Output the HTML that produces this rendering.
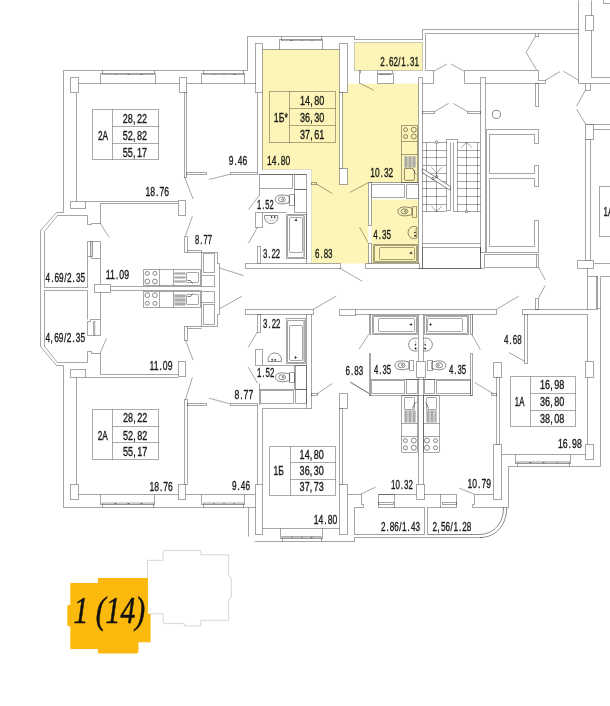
<!DOCTYPE html>
<html lang="ru"><head><meta charset="utf-8"><title>План этажа</title>
<style>html,body{margin:0;padding:0;background:#fff}svg{display:block}</style>
</head><body>
<svg width="610" height="706" viewBox="0 0 610 706">
<g stroke="none"><polygon points="262.5,49.5 339.5,49.5 339.5,92.5 347.5,92.5 347.5,83.5 418.5,83.5 418.5,263.5 311.5,263.5 311.5,169.5 262.5,169.5" fill="#FDF5B7"/>
<rect x="354.5" y="42.5" width="68" height="28" fill="#FDF5B7"/>
<rect x="359.5" y="70.5" width="18" height="13" fill="#fff"/>
<rect x="368.5" y="182.5" width="50" height="17" fill="#fff"/>
<rect x="368.5" y="225.5" width="3" height="18" fill="#fff"/></g>
<g stroke="#000" stroke-opacity="0.35" stroke-width="1" fill="none" stroke-linecap="butt">
<polyline points="40.5,346.5 40.5,230.5 56.5,212.5 63.5,212.5 63.5,70.5 247.5,70.5 247.5,36.5 354.5,36.5 354.5,39.5 422.5,39.5 422.5,29.5 578.5,29.5" fill="none"/>
<line x1="578.5" y1="0.5" x2="578.5" y2="83.5"/>
<polyline points="40.5,346.5 56.5,365.5 63.5,365.5 63.5,507.5 248.5,507.5 248.5,536.5" fill="none"/>
<polyline points="254.5,541.5 354.5,541.5 354.5,537.5 481.5,537.5" fill="none"/>
<line x1="76.5" y1="92.5" x2="76.5" y2="201.5"/>
<line x1="78.5" y1="83.5" x2="100.5" y2="83.5"/>
<line x1="155.5" y1="83.5" x2="179.5" y2="83.5"/>
<line x1="186.5" y1="83.5" x2="201.5" y2="83.5"/>
<line x1="244.5" y1="83.5" x2="256.5" y2="83.5"/>
<rect x="100.5" y="73.5" width="55" height="10" fill="#fff"/>
<rect x="102.6" y="73.4" width="51.6" height="1.2" fill="#fff" stroke="#777" stroke-opacity="1" stroke-width="0.6"/>
<line x1="102.5" y1="70.5" x2="102.5" y2="73.5"/>
<line x1="154.5" y1="70.5" x2="154.5" y2="73.5"/>
<line x1="115.5" y1="74.5" x2="116.5" y2="74.5" stroke="#666" stroke-opacity="1" stroke-width="1.0"/>
<line x1="127.5" y1="74.5" x2="129.5" y2="74.5" stroke="#666" stroke-opacity="1" stroke-width="1.0"/>
<line x1="140.5" y1="74.5" x2="142.5" y2="74.5" stroke="#666" stroke-opacity="1" stroke-width="1.0"/>
<rect x="201.5" y="73.5" width="43" height="10" fill="#fff"/>
<rect x="203.4" y="73.4" width="40.7" height="1.2" fill="#fff" stroke="#777" stroke-opacity="1" stroke-width="0.6"/>
<line x1="203.5" y1="70.5" x2="203.5" y2="73.5"/>
<line x1="243.5" y1="70.5" x2="243.5" y2="73.5"/>
<line x1="213.5" y1="74.5" x2="214.5" y2="74.5" stroke="#666" stroke-opacity="1" stroke-width="1.0"/>
<line x1="223.5" y1="74.5" x2="224.5" y2="74.5" stroke="#666" stroke-opacity="1" stroke-width="1.0"/>
<line x1="233.5" y1="74.5" x2="235.5" y2="74.5" stroke="#666" stroke-opacity="1" stroke-width="1.0"/>
<rect x="70.5" y="77.5" width="8" height="15" fill="#fff"/>
<rect x="179.5" y="77.5" width="7" height="15" fill="#fff"/>
<rect x="184.5" y="92.5" width="2" height="85" fill="#fff"/>
<rect x="186.5" y="172.5" width="20" height="2" fill="none"/>
<rect x="230.5" y="172.5" width="27" height="2" fill="none"/>
<line x1="230.4" y1="174.2" x2="208.8" y2="179.5"/>
<line x1="184.4" y1="176.8" x2="193.1" y2="199"/>
<line x1="85.5" y1="201.5" x2="178.5" y2="201.5"/>
<line x1="100.5" y1="203.5" x2="178.5" y2="203.5"/>
<rect x="70.5" y="201.5" width="15" height="7" fill="#fff"/>
<rect x="178.5" y="200.5" width="7" height="15" fill="#fff"/>
<polyline points="87.5,287.5 44.5,287.5 44.5,231.5 57.5,215.5 87.5,215.5 87.5,224.5 91.5,224.5 91.5,223.5 100.5,223.5 100.5,203.5" fill="none"/>
<line x1="100" y1="222.9" x2="109.2" y2="237.4"/>
<polyline points="87.5,258.5 87.5,241.5 100.5,241.5 100.5,258.5 91.5,258.5 90.5,256.5 87.5,256.5" fill="none"/>
<rect x="90.5" y="241.5" width="2" height="15" fill="#ddd"/>
<line x1="87.5" y1="258.5" x2="87.5" y2="287.5"/>
<line x1="100.5" y1="258.5" x2="100.5" y2="284.5"/>
<line x1="110.5" y1="286.5" x2="201.5" y2="286.5"/>
<line x1="110.5" y1="290.5" x2="201.5" y2="290.5"/>
<rect x="94.5" y="284.5" width="16" height="8" fill="#fff"/>
<polyline points="87.5,290.5 44.5,290.5 44.5,346.5 57.5,362.5 87.5,362.5 87.5,351.5 91.5,351.5 91.5,353.5 100.5,353.5 100.5,374.5" fill="none"/>
<line x1="87.5" y1="290.5" x2="87.5" y2="319.5"/>
<line x1="100.5" y1="292.5" x2="100.5" y2="319.5"/>
<polyline points="87.5,321.5 87.5,335.5 100.5,335.5 100.5,319.5 90.5,319.5 90.5,321.5 87.5,321.5" fill="none"/>
<rect x="93.3" y="321.3" width="1.6" height="14.1" fill="#ccc" stroke-width="0.6"/>
<line x1="100" y1="353.4" x2="106.4" y2="338.5"/>
<line x1="100.5" y1="374.5" x2="178.5" y2="374.5"/>
<line x1="85.5" y1="377.5" x2="178.5" y2="377.5"/>
<rect x="70.5" y="369.5" width="15" height="8" fill="#fff"/>
<rect x="178.5" y="361.5" width="7" height="15" fill="#fff"/>
<line x1="76.5" y1="377.5" x2="76.5" y2="484.5"/>
<rect x="143.5" y="269.5" width="57" height="16" fill="none"/>
<line x1="159.5" y1="269.5" x2="159.5" y2="285.5"/>
<line x1="173.5" y1="269.5" x2="173.5" y2="285.5"/>
<circle cx="147.3" cy="273.4" r="2" fill="none" stroke-opacity="0.45"/>
<circle cx="147.3" cy="281.5" r="2.4" fill="none" stroke-opacity="0.45"/>
<circle cx="154.9" cy="273.4" r="2" fill="none" stroke-opacity="0.45"/>
<circle cx="154.9" cy="281.5" r="2.4" fill="none" stroke-opacity="0.45"/>
<rect x="174.5" y="272.5" width="11" height="2" fill="#ababab" stroke="#ababab" stroke-opacity="1" stroke-width="0.2"/>
<rect x="174.5" y="276.5" width="11" height="2" fill="#ababab" stroke="#ababab" stroke-opacity="1" stroke-width="0.2"/>
<rect x="174.5" y="280.5" width="11" height="2" fill="#ababab" stroke="#ababab" stroke-opacity="1" stroke-width="0.2"/>
<rect x="186.5" y="272.5" width="12" height="10" fill="none" rx="1"/>
<polyline points="187.5,280.5 190.5,280.5 192.5,283.5" fill="none" stroke="#444" stroke-opacity="1" stroke-width="0.7"/>
<rect x="201.5" y="275.5" width="13" height="11" fill="none"/>
<rect x="143.5" y="291.5" width="57" height="16" fill="none"/>
<line x1="159.5" y1="291.5" x2="159.5" y2="307.5"/>
<line x1="173.5" y1="291.5" x2="173.5" y2="307.5"/>
<circle cx="147.3" cy="295.2" r="2.4" fill="none" stroke-opacity="0.45"/>
<circle cx="147.3" cy="303.4" r="2" fill="none" stroke-opacity="0.45"/>
<circle cx="154.9" cy="295.2" r="2.4" fill="none" stroke-opacity="0.45"/>
<circle cx="154.9" cy="303.4" r="2" fill="none" stroke-opacity="0.45"/>
<rect x="174.5" y="294.5" width="11" height="3" fill="#ababab" stroke="#ababab" stroke-opacity="1" stroke-width="0.2"/>
<rect x="174.5" y="298.5" width="11" height="3" fill="#ababab" stroke="#ababab" stroke-opacity="1" stroke-width="0.2"/>
<rect x="174.5" y="302.5" width="11" height="3" fill="#ababab" stroke="#ababab" stroke-opacity="1" stroke-width="0.2"/>
<rect x="186.5" y="294.5" width="12" height="10" fill="none" rx="1"/>
<polyline points="187.5,296.5 190.5,296.5 192.5,293.5" fill="none" stroke="#444" stroke-opacity="1" stroke-width="0.7"/>
<rect x="201.5" y="291.5" width="13" height="11" fill="none"/>
<rect x="184.5" y="236.5" width="3" height="16" fill="none"/>
<line x1="187.5" y1="250.5" x2="201.5" y2="250.5"/>
<line x1="187.5" y1="252.5" x2="217.5" y2="252.5"/>
<line x1="201.5" y1="250.5" x2="201.5" y2="275.5"/>
<polyline points="217.5,252.5 217.5,263.5 219.5,263.5 219.5,314.5 217.5,314.5 217.5,326.5 187.5,326.5" fill="none"/>
<rect x="203.5" y="253.5" width="11" height="19" fill="none"/>
<rect x="203.5" y="304.5" width="11" height="20" fill="none"/>
<line x1="201.5" y1="302.5" x2="201.5" y2="326.5"/>
<rect x="184.5" y="326.5" width="3" height="14" fill="none"/>
<line x1="187.5" y1="328.5" x2="201.5" y2="328.5"/>
<line x1="185.5" y1="235.7" x2="192.4" y2="216.2"/>
<line x1="185.5" y1="340.1" x2="193.1" y2="360.3"/>
<line x1="219.5" y1="268" x2="243.6" y2="275.6"/>
<line x1="219.5" y1="308.8" x2="241.9" y2="296.3"/>
<line x1="192.4" y1="377.5" x2="185.5" y2="399.3"/>
<rect x="184.5" y="399.5" width="3" height="85" fill="#fff"/>
<rect x="187.5" y="403.5" width="19" height="2" fill="none"/>
<rect x="230.5" y="403.5" width="27" height="2" fill="none"/>
<line x1="209.2" y1="398.2" x2="230.3" y2="403.9"/>
<line x1="78.5" y1="494.5" x2="100.5" y2="494.5"/>
<line x1="154.5" y1="494.5" x2="178.5" y2="494.5"/>
<line x1="185.5" y1="494.5" x2="201.5" y2="494.5"/>
<line x1="244.5" y1="494.5" x2="255.5" y2="494.5"/>
<rect x="100.5" y="494.5" width="54" height="10" fill="#fff"/>
<rect x="102" y="503" width="51.9" height="1.2" fill="#fff" stroke="#777" stroke-opacity="1" stroke-width="0.6"/>
<line x1="102.5" y1="507.5" x2="102.5" y2="504.5"/>
<line x1="153.5" y1="507.5" x2="153.5" y2="504.5"/>
<line x1="114.5" y1="503.5" x2="116.5" y2="503.5" stroke="#666" stroke-opacity="1" stroke-width="1.0"/>
<line x1="127.5" y1="503.5" x2="129.5" y2="503.5" stroke="#666" stroke-opacity="1" stroke-width="1.0"/>
<line x1="140.5" y1="503.5" x2="142.5" y2="503.5" stroke="#666" stroke-opacity="1" stroke-width="1.0"/>
<rect x="201.5" y="494.5" width="43" height="10" fill="#fff"/>
<rect x="203.6" y="503" width="40" height="1.2" fill="#fff" stroke="#777" stroke-opacity="1" stroke-width="0.6"/>
<line x1="203.5" y1="507.5" x2="203.5" y2="504.5"/>
<line x1="243.5" y1="507.5" x2="243.5" y2="504.5"/>
<line x1="213.5" y1="503.5" x2="214.5" y2="503.5" stroke="#666" stroke-opacity="1" stroke-width="1.0"/>
<line x1="223.5" y1="503.5" x2="224.5" y2="503.5" stroke="#666" stroke-opacity="1" stroke-width="1.0"/>
<line x1="233.5" y1="503.5" x2="234.5" y2="503.5" stroke="#666" stroke-opacity="1" stroke-width="1.0"/>
<rect x="70.5" y="484.5" width="8" height="15" fill="#fff"/>
<rect x="178.5" y="484.5" width="7" height="15" fill="#fff"/>
<line x1="259.5" y1="174.5" x2="306.5" y2="174.5"/>
<rect x="259.5" y="174.5" width="33" height="14" fill="none"/>
<rect x="294.5" y="174.5" width="12" height="15" fill="none"/>
<rect x="294.5" y="189.5" width="12" height="23" fill="none"/>
<line x1="259.5" y1="188.5" x2="259.5" y2="195.5"/>
<line x1="259.5" y1="195" x2="248.5" y2="209.6"/>
<rect x="289.5" y="194.5" width="5" height="11" fill="none"/>
<path d="M289.2,196 L282.7,194.9 Q275.2,194.9 275.2,199.4 Q275.2,203.9 282.7,203.9 L289.2,202.8 Z" fill="none" stroke-opacity="0.45"/>
<ellipse cx="281.8" cy="199.4" rx="3.5" ry="2.5" fill="none" stroke-opacity="0.45"/>
<circle cx="282.6" cy="199.4" r="0.9" fill="none" stroke-opacity="0.45"/>
<line x1="262.5" y1="212.5" x2="286.5" y2="212.5"/>
<rect x="255.5" y="212.5" width="7" height="15" fill="#fff"/>
<line x1="257.5" y1="227.3" x2="248.4" y2="243.2"/>
<path d="M264.6,215.5 A6.75,6.75 0 1 0 277.8,215.5 Z" fill="none" stroke-opacity="0.45"/>
<circle cx="271.6" cy="217.2" r="0.6" fill="#333" stroke-opacity="0.45"/>
<circle cx="274.6" cy="217.1" r="0.6" fill="#333" stroke-opacity="0.45"/>
<path d="M266.6,217.6 A5,5 0 0 0 276,217.6" fill="none" stroke="#000" stroke-opacity="0.35" stroke-width="0.6"/>
<rect x="286.5" y="214.5" width="20" height="44" fill="none"/>
<rect x="287.5" y="215.5" width="17" height="42" fill="none" rx="0.8"/>
<rect x="289.5" y="217.5" width="13" height="35" fill="none" rx="1.2"/>
<rect x="303.5" y="216.5" width="1" height="40" fill="#bbb" stroke="#aaa" stroke-opacity="1" stroke-width="0.4"/>
<line x1="294.3" y1="220.5" x2="297.3" y2="220.5" stroke="#444" stroke-opacity="1" stroke-width="0.6"/>
<line x1="296.5" y1="218.4" x2="296.5" y2="221.4" stroke="#444" stroke-opacity="1" stroke-width="0.6"/>
<circle cx="295.8" cy="219.9" r="0.5" fill="#444" stroke-opacity="0.45"/>
<rect x="257.5" y="246.5" width="3" height="17" fill="none"/>
<rect x="245.5" y="263.5" width="95" height="5" fill="#fff"/>
<line x1="306.5" y1="212.5" x2="306.5" y2="263.5"/>
<line x1="311.5" y1="169.5" x2="311.5" y2="263.5" stroke="#000" stroke-opacity="0.1"/>
<rect x="311.5" y="182.5" width="5" height="2" fill="none"/>
<line x1="316" y1="183.7" x2="332.3" y2="193.5"/>
<line x1="339.7" y1="268.2" x2="362.3" y2="281.3"/>
<rect x="245.5" y="309.5" width="68" height="5" fill="#fff"/>
<line x1="313.4" y1="309.3" x2="336.3" y2="296.1"/>
<rect x="257.5" y="314.5" width="3" height="18" fill="none"/>
<line x1="257.4" y1="331.7" x2="248.2" y2="347.5"/>
<rect x="286.5" y="318.5" width="19" height="45" fill="none"/>
<rect x="287.5" y="320.5" width="17" height="42" fill="none" rx="0.8"/>
<rect x="289.5" y="325.5" width="13" height="35" fill="none" rx="1.2"/>
<rect x="303.5" y="320.5" width="1" height="41" fill="#bbb" stroke="#aaa" stroke-opacity="1" stroke-width="0.4"/>
<line x1="294.15" y1="357.5" x2="297.15" y2="357.5" stroke="#444" stroke-opacity="1" stroke-width="0.6"/>
<line x1="295.5" y1="356" x2="295.5" y2="359" stroke="#444" stroke-opacity="1" stroke-width="0.6"/>
<circle cx="295.65" cy="357.5" r="0.5" fill="#444" stroke-opacity="0.45"/>
<rect x="255.5" y="349.5" width="7" height="16" fill="#fff"/>
<path d="M268.3,361.5 A6.75,6.75 0 1 1 281.3,361.5 Z" fill="none" stroke-opacity="0.45"/>
<circle cx="272.2" cy="359.8" r="0.6" fill="#333" stroke-opacity="0.45"/>
<circle cx="275.2" cy="359.9" r="0.6" fill="#333" stroke-opacity="0.45"/>
<line x1="262.5" y1="365.5" x2="305.5" y2="365.5"/>
<rect x="289.5" y="372.5" width="5" height="10" fill="none"/>
<path d="M289.6,373.9 L283.1,372.8 Q275.6,372.8 275.6,377.3 Q275.6,381.8 283.1,381.8 L289.6,380.7 Z" fill="none" stroke-opacity="0.45"/>
<ellipse cx="282.2" cy="377.3" rx="3.5" ry="2.5" fill="none" stroke-opacity="0.45"/>
<circle cx="283" cy="377.3" r="0.9" fill="none" stroke-opacity="0.45"/>
<line x1="248.3" y1="367.2" x2="257.5" y2="383.2"/>
<line x1="259.5" y1="383.5" x2="259.5" y2="405.5"/>
<line x1="259.5" y1="389.5" x2="294.5" y2="389.5"/>
<rect x="260.5" y="390.5" width="33" height="13" fill="none"/>
<rect x="295.5" y="365.5" width="11" height="24" fill="none"/>
<rect x="295.5" y="389.5" width="11" height="14" fill="none"/>
<line x1="294.5" y1="365.5" x2="294.5" y2="389.5"/>
<line x1="306.5" y1="314.5" x2="306.5" y2="408.5"/>
<line x1="311.5" y1="314.5" x2="311.5" y2="408.5"/>
<line x1="262.5" y1="408.5" x2="311.5" y2="408.5"/>
<rect x="311.5" y="393.5" width="6" height="2" fill="none"/>
<line x1="316.8" y1="394" x2="332.1" y2="383.6"/>
<line x1="257.5" y1="405.5" x2="257.5" y2="484.5"/>
<line x1="262.5" y1="408.5" x2="262.5" y2="484.5"/>
<rect x="255.5" y="484.5" width="7" height="50" fill="#fff"/>
<line x1="257.5" y1="92.5" x2="257.5" y2="172.5"/>
<line x1="262.5" y1="92.5" x2="262.5" y2="169.5"/>
<line x1="262.5" y1="49.5" x2="279.5" y2="49.5"/>
<line x1="322.5" y1="49.5" x2="339.5" y2="49.5"/>
<rect x="279.5" y="39.5" width="43" height="10" fill="#fff"/>
<rect x="281.3" y="39.5" width="40.4" height="1.2" fill="#fff" stroke="#777" stroke-opacity="1" stroke-width="0.6"/>
<line x1="281.5" y1="36.5" x2="281.5" y2="39.5"/>
<line x1="321.5" y1="36.5" x2="321.5" y2="39.5"/>
<line x1="290.5" y1="40.5" x2="292.5" y2="40.5" stroke="#666" stroke-opacity="1" stroke-width="1.0"/>
<line x1="301.5" y1="40.5" x2="302.5" y2="40.5" stroke="#666" stroke-opacity="1" stroke-width="1.0"/>
<line x1="311.5" y1="40.5" x2="312.5" y2="40.5" stroke="#666" stroke-opacity="1" stroke-width="1.0"/>
<line x1="262.5" y1="169.5" x2="311.5" y2="169.5" stroke="#000" stroke-opacity="0.1"/>
<rect x="255.5" y="43.5" width="7" height="49" fill="#fff"/>
<rect x="339.5" y="43.5" width="8" height="49" fill="#fff"/>
<rect x="339.5" y="92.5" width="3" height="76" fill="#fff"/>
<rect x="339.5" y="168.5" width="8" height="16" fill="#fff"/>
<rect x="269.5" y="91.5" width="66" height="51" fill="none" stroke="#000" stroke-opacity="0.33"/>
<line x1="289.5" y1="91.5" x2="289.5" y2="142.5" stroke="#000" stroke-opacity="0.33"/>
<line x1="289.5" y1="108.5" x2="335.5" y2="108.5" stroke="#000" stroke-opacity="0.33"/>
<line x1="289.5" y1="125.5" x2="335.5" y2="125.5" stroke="#000" stroke-opacity="0.33"/>
<rect x="354.5" y="42.5" width="68" height="28" fill="none" stroke="#000" stroke-opacity="0.2"/>
<polyline points="359.5,83.5 359.5,70.5 360.5,70.5 360.5,73.5" fill="none"/>
<rect x="377.5" y="70.5" width="15" height="4" fill="#fff" stroke="#000" stroke-opacity="0.25"/>
<rect x="377.5" y="73.5" width="16" height="10" fill="#fff"/>
<line x1="378.5" y1="74.5" x2="391.5" y2="74.5" stroke="#888" stroke-opacity="1" stroke-width="1.1"/>
<line x1="359.5" y1="83" x2="373.7" y2="90.2"/>
<rect x="418.5" y="77.5" width="4" height="191" fill="#fff"/>
<rect x="401.5" y="125.5" width="16" height="57" fill="none"/>
<line x1="401.5" y1="141.5" x2="417.5" y2="141.5"/>
<line x1="401.5" y1="154.5" x2="417.5" y2="154.5"/>
<circle cx="405.6" cy="129.7" r="2" fill="none" stroke-opacity="0.45"/>
<circle cx="405.6" cy="136.5" r="2" fill="none" stroke-opacity="0.45"/>
<circle cx="413.8" cy="129.7" r="2.5" fill="none" stroke-opacity="0.45"/>
<circle cx="413.8" cy="136.5" r="2.5" fill="none" stroke-opacity="0.45"/>
<rect x="404.5" y="156.5" width="3" height="11" fill="#ababab" stroke="#ababab" stroke-opacity="1" stroke-width="0.2"/>
<rect x="408.5" y="156.5" width="3" height="11" fill="#ababab" stroke="#ababab" stroke-opacity="1" stroke-width="0.2"/>
<rect x="412.5" y="156.5" width="3" height="11" fill="#ababab" stroke="#ababab" stroke-opacity="1" stroke-width="0.2"/>
<path d="M405.2,168.4 H412.6 L414.4,171.6 V179.4 Q414.4,180.3 413.5,180.3 H405.2 Q404.4,180.3 404.4,179.4 V169.2 Q404.4,168.4 405.2,168.4 Z" fill="none" stroke-opacity="0.45"/>
<polyline points="413.5,169.5 414.5,170.5 414.5,172.5 416.5,174.5" fill="none" stroke="#444" stroke-opacity="1" stroke-width="0.7"/>
<line x1="368.4" y1="182.6" x2="349.7" y2="192.5"/>
<line x1="368.5" y1="182.5" x2="418.5" y2="182.5"/>
<rect x="371.5" y="184.5" width="33" height="13" fill="#fff"/>
<rect x="406.5" y="184.5" width="12" height="14" fill="#fff"/>
<rect x="368.5" y="182.5" width="3" height="43" fill="#fff"/>
<rect x="368.5" y="243.5" width="3" height="20" fill="#fff"/>
<line x1="368" y1="242.4" x2="359.5" y2="227"/>
<rect x="412.5" y="206.5" width="4" height="11" fill="none"/>
<path d="M411.9,208 L405.4,206.9 Q397.9,206.9 397.9,211.4 Q397.9,215.9 405.4,215.9 L411.9,214.8 Z" fill="none" stroke-opacity="0.45"/>
<ellipse cx="404.5" cy="211.4" rx="3.5" ry="2.5" fill="none" stroke-opacity="0.45"/>
<circle cx="405.3" cy="211.4" r="0.9" fill="none" stroke-opacity="0.45"/>
<path d="M416.9,227.1 A6.1,6.1 0 1 0 416.9,238 Z" fill="none" stroke-opacity="0.45"/>
<circle cx="415" cy="232.6" r="0.55" fill="#333" stroke-opacity="0.45"/>
<circle cx="415.1" cy="235.8" r="0.7" fill="#222" stroke-opacity="0.45"/>
<line x1="414.8" y1="228.6" x2="415.4" y2="231.6" stroke="#000" stroke-opacity="0.4" stroke-width="0.6"/>
<rect x="373.5" y="244.5" width="44" height="18" fill="none"/>
<rect x="374.5" y="245.5" width="42" height="16" fill="none" rx="0.8"/>
<rect x="379.5" y="247.5" width="35" height="12" fill="none" rx="1.2"/>
<line x1="409.4" y1="253.5" x2="412.4" y2="253.5" stroke="#444" stroke-opacity="1" stroke-width="0.6"/>
<line x1="411.5" y1="251.4" x2="411.5" y2="254.4" stroke="#444" stroke-opacity="1" stroke-width="0.6"/>
<circle cx="410.9" cy="252.9" r="0.5" fill="#444" stroke-opacity="0.45"/>
<rect x="365.5" y="263.5" width="54" height="5" fill="#fff"/>
<line x1="419.5" y1="268.5" x2="484.5" y2="268.5"/>
<line x1="425.5" y1="33.5" x2="425.5" y2="70.5"/>
<line x1="425.5" y1="33.5" x2="578.5" y2="33.5"/>
<polyline points="425.5,70.5 433.5,70.5 433.5,83.5 422.5,83.5" fill="none"/>
<line x1="433.8" y1="71.1" x2="446.9" y2="64.1"/>
<line x1="464.1" y1="71.1" x2="451" y2="64.1"/>
<line x1="464.5" y1="70.5" x2="538.5" y2="70.5"/>
<line x1="464.5" y1="70.5" x2="464.5" y2="83.5"/>
<line x1="464.5" y1="83.5" x2="480.5" y2="83.5"/>
<rect x="480.5" y="77.5" width="5" height="175" fill="#fff"/>
<line x1="485.5" y1="83.5" x2="545.5" y2="83.5"/>
<polyline points="538.5,70.5 538.5,80.5 545.5,80.5 545.5,83.5" fill="none"/>
<rect x="422.5" y="111.5" width="12" height="2" fill="none"/>
<line x1="434.6" y1="111.6" x2="448.5" y2="103.4"/>
<rect x="467.5" y="111.5" width="13" height="2" fill="none"/>
<line x1="467.4" y1="111.6" x2="453.4" y2="103.4"/>
<circle cx="496.4" cy="114.4" r="4.1" fill="none" stroke-opacity="0.45"/>
<line x1="422.5" y1="142.5" x2="446.5" y2="142.5"/>
<line x1="457.5" y1="142.5" x2="480.5" y2="142.5"/>
<line x1="422.5" y1="150.5" x2="446.5" y2="150.5"/>
<line x1="457.5" y1="150.5" x2="480.5" y2="150.5"/>
<line x1="422.5" y1="157.5" x2="446.5" y2="157.5"/>
<line x1="457.5" y1="157.5" x2="480.5" y2="157.5"/>
<line x1="422.5" y1="165.5" x2="446.5" y2="165.5"/>
<line x1="457.5" y1="165.5" x2="480.5" y2="165.5"/>
<line x1="422.5" y1="173.5" x2="446.5" y2="173.5"/>
<line x1="457.5" y1="173.5" x2="480.5" y2="173.5"/>
<line x1="422.5" y1="181.5" x2="446.5" y2="181.5"/>
<line x1="457.5" y1="181.5" x2="480.5" y2="181.5"/>
<line x1="422.5" y1="188.5" x2="446.5" y2="188.5"/>
<line x1="457.5" y1="188.5" x2="480.5" y2="188.5"/>
<line x1="422.5" y1="196.5" x2="446.5" y2="196.5"/>
<line x1="457.5" y1="196.5" x2="480.5" y2="196.5"/>
<line x1="422.5" y1="204.5" x2="446.5" y2="204.5"/>
<line x1="457.5" y1="204.5" x2="480.5" y2="204.5"/>
<line x1="422.5" y1="211.5" x2="446.5" y2="211.5"/>
<line x1="457.5" y1="211.5" x2="480.5" y2="211.5"/>
<line x1="426.5" y1="142.5" x2="426.5" y2="211.5"/>
<line x1="436.5" y1="142.5" x2="436.5" y2="211.5"/>
<line x1="466.5" y1="142.5" x2="466.5" y2="211.5"/>
<line x1="477.5" y1="142.5" x2="477.5" y2="211.5"/>
<polyline points="446.5,210.5 446.5,139.5 457.5,139.5 457.5,211.5 453.5,211.5 453.5,142.5" fill="none"/>
<polyline points="446.5,210.5 450.5,210.5 450.5,142.5" fill="none"/>
<path d="M422.4,168.6 L450.6,186.6 L450.6,189.6 L448.4,189.2 L422.4,172.6 Z" fill="#fff" stroke-opacity="0.45"/>
<line x1="431.3" y1="167.3" x2="436.6" y2="172.8"/>
<line x1="442" y1="167.3" x2="436.6" y2="172.8"/>
<circle cx="436.6" cy="176.7" r="1.2" fill="none" stroke-opacity="0.45"/>
<circle cx="433" cy="178.6" r="1.2" fill="none" stroke-opacity="0.45"/>
<line x1="431.3" y1="205.8" x2="436.6" y2="211.5"/>
<line x1="442" y1="205.8" x2="436.6" y2="211.5"/>
<line x1="461.2" y1="147.8" x2="466.6" y2="142.2"/>
<line x1="472" y1="147.8" x2="466.6" y2="142.2"/>
<circle cx="436.6" cy="142.2" r="1.3" fill="#fff" stroke-opacity="0.45"/>
<circle cx="466.6" cy="211.5" r="1.1" fill="#fff" stroke-opacity="0.45"/>
<line x1="422.5" y1="243.5" x2="480.5" y2="243.5"/>
<rect x="422.5" y="247.5" width="58" height="21" fill="none"/>
<polyline points="486.5,252.5 486.5,129.5 538.5,129.5 538.5,143.5 534.5,143.5 534.5,134.5 489.5,134.5 489.5,173.5 534.5,173.5 534.5,165.5 538.5,165.5 538.5,186.5 534.5,186.5 534.5,178.5 489.5,178.5 489.5,246.5 534.5,246.5 534.5,220.5 538.5,220.5 538.5,252.5 486.5,252.5" fill="none"/>
<rect x="535.5" y="83.5" width="3" height="23" fill="none"/>
<rect x="484.5" y="254.5" width="54" height="13" fill="none"/>
<line x1="536.5" y1="254.5" x2="536.5" y2="267.5"/>
<line x1="538.4" y1="267" x2="545.3" y2="280.1"/>
<line x1="545.3" y1="285.4" x2="538.4" y2="298"/>
<rect x="535.5" y="298.5" width="3" height="11" fill="none"/>
<line x1="535.5" y1="33.5" x2="535.5" y2="36.5"/>
<line x1="538.5" y1="33.5" x2="538.5" y2="36.5"/>
<line x1="535.5" y1="36.5" x2="538.5" y2="36.5"/>
<line x1="535.4" y1="36.3" x2="526.2" y2="52.3"/>
<line x1="526.2" y1="52.3" x2="536.6" y2="70"/>
<line x1="545.3" y1="80.3" x2="560" y2="71.6"/>
<line x1="578.6" y1="80.3" x2="563.6" y2="71.2"/>
<line x1="591.5" y1="0.5" x2="591.5" y2="77.5"/>
<line x1="591.5" y1="77.5" x2="610.5" y2="77.5"/>
<rect x="585.5" y="15.5" width="8" height="15" fill="#fff"/>
<rect x="603.5" y="-2.5" width="12" height="6" fill="none"/>
<line x1="578.5" y1="83.5" x2="585.5" y2="83.5"/>
<rect x="585.5" y="83.5" width="5" height="7" fill="none"/>
<line x1="590.5" y1="83.5" x2="610.5" y2="83.5"/>
<line x1="585.4" y1="90.2" x2="576.7" y2="106"/>
<line x1="576.7" y1="109" x2="585.9" y2="124.6"/>
<line x1="586.5" y1="124.5" x2="610.5" y2="124.5"/>
<line x1="593.5" y1="129.5" x2="610.5" y2="129.5"/>
<rect x="585.5" y="139.5" width="5" height="121" fill="#fff"/>
<rect x="585.5" y="124.5" width="8" height="15" fill="#fff"/>
<rect x="577.5" y="260.5" width="16" height="8" fill="#fff"/>
<line x1="587.5" y1="268.5" x2="587.5" y2="309.5"/>
<line x1="587.5" y1="276.5" x2="597.5" y2="276.5"/>
<line x1="600.5" y1="276.5" x2="610.5" y2="276.5"/>
<line x1="594.5" y1="263.5" x2="610.5" y2="263.5"/>
<rect x="596.5" y="276.5" width="1" height="32" fill="none" stroke="#666" stroke-opacity="1" stroke-width="0.6"/>
<line x1="597.5" y1="308.5" x2="600.5" y2="308.5"/>
<rect x="599.5" y="186.5" width="21" height="50" fill="none"/>
<line x1="480.5" y1="268.5" x2="480.5" y2="247.5"/>
<line x1="355.5" y1="309.5" x2="496.5" y2="309.5"/>
<rect x="339.5" y="309.5" width="16" height="6" fill="#fff"/>
<line x1="355.5" y1="314.5" x2="496.5" y2="314.5"/>
<line x1="496.5" y1="309.5" x2="496.5" y2="314.5"/>
<line x1="496.4" y1="309.3" x2="518.7" y2="296.2"/>
<polyline points="587.5,314.5 522.5,314.5 522.5,309.5 597.5,309.5 597.5,308.5" fill="none"/>
<rect x="524.5" y="314.5" width="3" height="49" fill="#fff"/>
<line x1="509" y1="352.6" x2="524.4" y2="361.1"/>
<rect x="496.5" y="377.5" width="3" height="67" fill="#fff"/>
<rect x="493.5" y="362.5" width="8" height="15" fill="#fff"/>
<rect x="491.5" y="393.5" width="5" height="2" fill="none"/>
<line x1="493.6" y1="393.9" x2="474.6" y2="382.5"/>
<line x1="472.5" y1="314.5" x2="472.5" y2="334.5"/>
<line x1="471.8" y1="334.4" x2="480.3" y2="349.7"/>
<rect x="510.5" y="376.5" width="65" height="50" fill="none" stroke="#000" stroke-opacity="0.33"/>
<line x1="530.5" y1="376.5" x2="530.5" y2="426.5" stroke="#000" stroke-opacity="0.33"/>
<line x1="530.5" y1="393.5" x2="575.5" y2="393.5" stroke="#000" stroke-opacity="0.33"/>
<line x1="530.5" y1="410.5" x2="575.5" y2="410.5" stroke="#000" stroke-opacity="0.33"/>
<line x1="587.5" y1="314.5" x2="587.5" y2="444.5"/>
<line x1="600.5" y1="276.5" x2="600.5" y2="466.5"/>
<rect x="585.5" y="361.5" width="8" height="16" fill="#fff"/>
<rect x="585.5" y="444.5" width="8" height="15" fill="#fff"/>
<line x1="501.5" y1="454.5" x2="515.5" y2="454.5"/>
<line x1="570.5" y1="454.5" x2="585.5" y2="454.5"/>
<rect x="515.5" y="454.5" width="55" height="9" fill="#fff"/>
<rect x="516.8" y="461.9" width="53" height="1.2" fill="#fff" stroke="#777" stroke-opacity="1" stroke-width="0.6"/>
<line x1="517.5" y1="466.5" x2="517.5" y2="463.5"/>
<line x1="569.5" y1="466.5" x2="569.5" y2="463.5"/>
<line x1="529.5" y1="462.5" x2="531.5" y2="462.5" stroke="#666" stroke-opacity="1" stroke-width="1.0"/>
<line x1="542.5" y1="462.5" x2="544.5" y2="462.5" stroke="#666" stroke-opacity="1" stroke-width="1.0"/>
<line x1="556.5" y1="462.5" x2="557.5" y2="462.5" stroke="#666" stroke-opacity="1" stroke-width="1.0"/>
<polyline points="600.5,466.5 508.5,466.5 508.5,507.5 472.5,507.5 472.5,504.5 474.5,504.5 474.5,494.5 493.5,494.5" fill="none"/>
<line x1="474.4" y1="494.3" x2="459.5" y2="488.2"/>
<rect x="493.5" y="444.5" width="8" height="55" fill="#fff"/>
<path d="M503.5,507.5 C503.5,523 494,534.5 479,534.5 L427.5,534.5" fill="none" stroke-opacity="0.45"/>
<path d="M506.7,507.5 C506.7,525 496,537.5 480,537.5" fill="none" stroke-opacity="0.45"/>
<line x1="418.5" y1="314.5" x2="418.5" y2="484.5"/>
<line x1="423.5" y1="314.5" x2="423.5" y2="484.5"/>
<rect x="369.5" y="314.5" width="1" height="20" fill="#fff"/>
<rect x="369.5" y="353.5" width="1" height="42" fill="#fff"/>
<rect x="470.5" y="314.5" width="2" height="20" fill="#fff"/>
<rect x="470.5" y="353.5" width="2" height="42" fill="#fff"/>
<line x1="368.7" y1="334.4" x2="359" y2="349.3"/>
<rect x="372.5" y="315.5" width="45" height="19" fill="none"/>
<rect x="373.5" y="316.5" width="43" height="17" fill="none" rx="0.8"/>
<rect x="378.5" y="318.5" width="36" height="13" fill="none" rx="1.2"/>
<line x1="409.3" y1="324.5" x2="412.3" y2="324.5" stroke="#444" stroke-opacity="1" stroke-width="0.6"/>
<line x1="411.5" y1="323" x2="411.5" y2="326" stroke="#444" stroke-opacity="1" stroke-width="0.6"/>
<circle cx="410.8" cy="324.5" r="0.5" fill="#444" stroke-opacity="0.45"/>
<rect x="424.5" y="315.5" width="44" height="19" fill="none"/>
<rect x="426.5" y="316.5" width="41" height="17" fill="none" rx="0.8"/>
<rect x="427.5" y="318.5" width="35" height="13" fill="none" rx="1.2"/>
<line x1="429.1" y1="324.5" x2="432.1" y2="324.5" stroke="#444" stroke-opacity="1" stroke-width="0.6"/>
<line x1="430.5" y1="323" x2="430.5" y2="326" stroke="#444" stroke-opacity="1" stroke-width="0.6"/>
<circle cx="430.6" cy="324.5" r="0.5" fill="#444" stroke-opacity="0.45"/>
<path d="M417.6,338.5 A6.55,6.55 0 1 0 417.6,350.7" fill="none" stroke-opacity="0.45"/>
<path d="M423.4,338.5 A6.55,6.55 0 1 1 423.4,350.7" fill="none" stroke-opacity="0.45"/>
<circle cx="415.5" cy="344.8" r="0.55" fill="#333" stroke-opacity="0.45"/>
<circle cx="415.6" cy="348.5" r="0.75" fill="#222" stroke-opacity="0.45"/>
<line x1="415.3" y1="340.3" x2="416" y2="343.6" stroke="#000" stroke-opacity="0.4" stroke-width="0.6"/>
<circle cx="425.2" cy="344.8" r="0.55" fill="#333" stroke-opacity="0.45"/>
<circle cx="425.1" cy="348.5" r="0.75" fill="#222" stroke-opacity="0.45"/>
<line x1="425.4" y1="340.3" x2="424.7" y2="343.6" stroke="#000" stroke-opacity="0.4" stroke-width="0.6"/>
<rect x="409.5" y="360.5" width="4" height="10" fill="none"/>
<path d="M408.9,361.9 L402.4,360.8 Q394.9,360.8 394.9,365.3 Q394.9,369.8 402.4,369.8 L408.9,368.7 Z" fill="none" stroke-opacity="0.45"/>
<ellipse cx="401.5" cy="365.3" rx="3.5" ry="2.5" fill="none" stroke-opacity="0.45"/>
<circle cx="402.3" cy="365.3" r="0.9" fill="none" stroke-opacity="0.45"/>
<rect x="427.5" y="360.5" width="5" height="10" fill="none"/>
<path d="M431.8,361.9 L438.3,360.8 Q445.8,360.8 445.8,365.3 Q445.8,369.8 438.3,369.8 L431.8,368.7 Z" fill="none" stroke-opacity="0.45"/>
<ellipse cx="439.2" cy="365.3" rx="3.5" ry="2.5" fill="none" stroke-opacity="0.45"/>
<circle cx="438.4" cy="365.3" r="0.9" fill="none" stroke-opacity="0.45"/>
<rect x="416.5" y="361.5" width="9" height="16" fill="#fff"/>
<line x1="370.5" y1="379.5" x2="470.5" y2="379.5"/>
<rect x="371.5" y="380.5" width="33" height="13" fill="none"/>
<rect x="406.5" y="379.5" width="11" height="14" fill="none"/>
<rect x="424.5" y="379.5" width="10" height="14" fill="none"/>
<rect x="436.5" y="380.5" width="34" height="13" fill="none"/>
<line x1="369.5" y1="395.5" x2="472.5" y2="395.5"/>
<line x1="368.7" y1="393" x2="350.3" y2="382.6"/>
<rect x="401.5" y="395.5" width="16" height="57" fill="none" rx="0.8"/>
<line x1="401.5" y1="423.5" x2="417.5" y2="423.5"/>
<line x1="401.5" y1="436.5" x2="417.5" y2="436.5"/>
<rect x="423.5" y="395.5" width="16" height="57" fill="none" rx="0.8"/>
<line x1="423.5" y1="423.5" x2="439.5" y2="423.5"/>
<line x1="423.5" y1="436.5" x2="439.5" y2="436.5"/>
<circle cx="405.4" cy="440.6" r="2" fill="none" stroke-opacity="0.45"/>
<circle cx="405.4" cy="447.8" r="2" fill="none" stroke-opacity="0.45"/>
<circle cx="413.8" cy="440.6" r="2.5" fill="none" stroke-opacity="0.45"/>
<circle cx="413.8" cy="447.8" r="2.5" fill="none" stroke-opacity="0.45"/>
<circle cx="426.9" cy="440.6" r="2.5" fill="none" stroke-opacity="0.45"/>
<circle cx="426.9" cy="447.8" r="2.5" fill="none" stroke-opacity="0.45"/>
<circle cx="435.5" cy="440.6" r="2" fill="none" stroke-opacity="0.45"/>
<circle cx="435.5" cy="447.8" r="2" fill="none" stroke-opacity="0.45"/>
<rect x="404.5" y="410.5" width="3" height="12" fill="#ababab" stroke="#ababab" stroke-opacity="1" stroke-width="0.2"/>
<rect x="408.5" y="410.5" width="3" height="12" fill="#ababab" stroke="#ababab" stroke-opacity="1" stroke-width="0.2"/>
<rect x="412.5" y="410.5" width="3" height="12" fill="#ababab" stroke="#ababab" stroke-opacity="1" stroke-width="0.2"/>
<rect x="426.5" y="410.5" width="3" height="12" fill="#ababab" stroke="#ababab" stroke-opacity="1" stroke-width="0.2"/>
<rect x="430.5" y="410.5" width="3" height="12" fill="#ababab" stroke="#ababab" stroke-opacity="1" stroke-width="0.2"/>
<rect x="434.5" y="410.5" width="2" height="12" fill="#ababab" stroke="#ababab" stroke-opacity="1" stroke-width="0.2"/>
<rect x="404.5" y="397.5" width="10" height="12" fill="none" rx="0.6"/>
<rect x="426.5" y="397.5" width="10" height="12" fill="none" rx="0.6"/>
<polyline points="416.5,402.5 414.5,403.5 412.5,408.5" fill="none" stroke="#444" stroke-opacity="1" stroke-width="0.7"/>
<polyline points="425.5,402.5 426.5,403.5 428.5,408.5" fill="none" stroke="#444" stroke-opacity="1" stroke-width="0.7"/>
<rect x="416.5" y="484.5" width="8" height="15" fill="#fff"/>
<rect x="339.5" y="408.5" width="3" height="76" fill="#fff"/>
<rect x="339.5" y="393.5" width="8" height="15" fill="#fff"/>
<rect x="339.5" y="484.5" width="8" height="50" fill="#fff"/>
<rect x="269.5" y="446.5" width="66" height="49" fill="none" stroke="#000" stroke-opacity="0.33"/>
<line x1="290.5" y1="446.5" x2="290.5" y2="495.5" stroke="#000" stroke-opacity="0.33"/>
<line x1="290.5" y1="462.5" x2="335.5" y2="462.5" stroke="#000" stroke-opacity="0.33"/>
<line x1="290.5" y1="479.5" x2="335.5" y2="479.5" stroke="#000" stroke-opacity="0.33"/>
<line x1="262.5" y1="528.5" x2="280.5" y2="528.5"/>
<line x1="322.5" y1="528.5" x2="339.5" y2="528.5"/>
<rect x="280.5" y="528.5" width="42" height="10" fill="#fff"/>
<rect x="281.8" y="536.7" width="39.5" height="1.2" fill="#fff" stroke="#777" stroke-opacity="1" stroke-width="0.6"/>
<line x1="282.5" y1="541.5" x2="282.5" y2="538.5"/>
<line x1="321.5" y1="541.5" x2="321.5" y2="538.5"/>
<line x1="291.5" y1="537.5" x2="292.5" y2="537.5" stroke="#666" stroke-opacity="1" stroke-width="1.0"/>
<line x1="301.5" y1="537.5" x2="302.5" y2="537.5" stroke="#666" stroke-opacity="1" stroke-width="1.0"/>
<line x1="310.5" y1="537.5" x2="312.5" y2="537.5" stroke="#666" stroke-opacity="1" stroke-width="1.0"/>
<line x1="350.5" y1="381.8" x2="370" y2="394.4"/>
<line x1="347.5" y1="494.5" x2="361.5" y2="494.5"/>
<line x1="378.5" y1="494.5" x2="416.5" y2="494.5"/>
<line x1="424.5" y1="494.5" x2="440.5" y2="494.5"/>
<line x1="360.7" y1="494.1" x2="375.6" y2="487.2"/>
<polyline points="361.5,494.5 361.5,504.5 363.5,504.5 363.5,507.5" fill="none"/>
<rect x="378.5" y="494.5" width="16" height="13" fill="none"/>
<rect x="378.5" y="502.5" width="15" height="2" fill="none" stroke="#000" stroke-opacity="0.45" stroke-width="0.8"/>
<rect x="440.5" y="494.5" width="16" height="13" fill="none"/>
<rect x="442.5" y="502.5" width="14" height="2" fill="none" stroke="#000" stroke-opacity="0.45" stroke-width="0.8"/>
<polyline points="363.5,507.5 354.5,507.5 354.5,534.5 424.5,534.5 424.5,507.5 394.5,507.5" fill="none"/>
<polyline points="440.5,507.5 427.5,507.5 427.5,534.5" fill="none"/>
<line x1="248.5" y1="507.5" x2="255.5" y2="507.5"/>
<rect x="92.5" y="109.5" width="66" height="50" fill="none" stroke="#000" stroke-opacity="0.33"/>
<line x1="112.5" y1="109.5" x2="112.5" y2="159.5" stroke="#000" stroke-opacity="0.33"/>
<line x1="112.5" y1="126.5" x2="158.5" y2="126.5" stroke="#000" stroke-opacity="0.33"/>
<line x1="112.5" y1="143.5" x2="158.5" y2="143.5" stroke="#000" stroke-opacity="0.33"/>
<rect x="92.5" y="409.5" width="66" height="50" fill="none" stroke="#000" stroke-opacity="0.33"/>
<line x1="112.5" y1="409.5" x2="112.5" y2="459.5" stroke="#000" stroke-opacity="0.33"/>
<line x1="112.5" y1="426.5" x2="158.5" y2="426.5" stroke="#000" stroke-opacity="0.33"/>
<line x1="112.5" y1="442.5" x2="158.5" y2="442.5" stroke="#000" stroke-opacity="0.33"/>
</g>
<g>
<path d="M147.5,613.8 V560.3 H163.1 V552.6 Q163.1,550.5 165.2,550.5 H200.8 V554.8 H228.7 V576 L231.3,577.6 V597.4 L228.7,599 V620.3 H200.8 V625.9 H184.4 V623.6 H165.2 Q163.1,623.6 163.1,621.5 V613.8 H150.5" fill="none" stroke="#d6d6d6" stroke-width="1"/>
<path d="M70.3,583 H97.9 V578 H147.9 V613.7 H150.6 V642.3 H138.4 V651.5 Q138.4,653.6 136.2,653.6 H97.9 V648.9 H70.3 V626.3 H68.6 Q67.3,626.3 67.3,625 V606.3 Q67.3,605 68.6,605 H70.3 Z" fill="#FCB90D"/>
</g>
<g font-family="'Liberation Sans', sans-serif" fill="#1a1a1a" stroke="#1a1a1a" stroke-width="0.35" style="opacity:0.999">
<text transform="translate(122.8,122.6) scale(0.7308,1)" font-size="12.4">28<tspan dx="0.27">,</tspan><tspan dx="1.92">22</tspan></text>
<text transform="translate(122.8,139.9) scale(0.7308,1)" font-size="12.4">52<tspan dx="0.27">,</tspan><tspan dx="1.92">82</tspan></text>
<text transform="translate(122.8,156.5) scale(0.7308,1)" font-size="12.4">55<tspan dx="0.27">,</tspan><tspan dx="1.92">17</tspan></text>
<text transform="translate(97.9,139.6) scale(0.6649,1)" font-size="12.4">2А</text>
<text transform="translate(123,422.1) scale(0.7308,1)" font-size="12.4">28<tspan dx="0.27">,</tspan><tspan dx="1.92">22</tspan></text>
<text transform="translate(123,440.1) scale(0.7308,1)" font-size="12.4">52<tspan dx="0.27">,</tspan><tspan dx="1.92">82</tspan></text>
<text transform="translate(123,456.2) scale(0.7308,1)" font-size="12.4">55<tspan dx="0.27">,</tspan><tspan dx="1.92">17</tspan></text>
<text transform="translate(97.7,439.8) scale(0.6649,1)" font-size="12.4">2А</text>
<text transform="translate(300,104.9) scale(0.7308,1)" font-size="12.4">14<tspan dx="0.27">,</tspan><tspan dx="1.92">80</tspan></text>
<text transform="translate(300,121.9) scale(0.7308,1)" font-size="12.4">36<tspan dx="0.27">,</tspan><tspan dx="1.92">30</tspan></text>
<text transform="translate(300,138.6) scale(0.7308,1)" font-size="12.4">37<tspan dx="0.27">,</tspan><tspan dx="1.92">61</tspan></text>
<text transform="translate(273.8,121.6) scale(0.7056,1)" font-size="12.4">1Б*</text>
<text transform="translate(299.6,458.7) scale(0.7308,1)" font-size="12.4">14<tspan dx="0.27">,</tspan><tspan dx="1.92">80</tspan></text>
<text transform="translate(299.6,475.4) scale(0.7308,1)" font-size="12.4">36<tspan dx="0.27">,</tspan><tspan dx="1.92">30</tspan></text>
<text transform="translate(299.6,491.3) scale(0.7308,1)" font-size="12.4">37<tspan dx="0.27">,</tspan><tspan dx="1.92">73</tspan></text>
<text transform="translate(273.6,475.1) scale(0.6865,1)" font-size="12.4">1Б</text>
<text transform="translate(540,389.3) scale(0.7308,1)" font-size="12.4">16<tspan dx="0.27">,</tspan><tspan dx="1.92">98</tspan></text>
<text transform="translate(540,406.1) scale(0.7308,1)" font-size="12.4">36<tspan dx="0.27">,</tspan><tspan dx="1.92">80</tspan></text>
<text transform="translate(540,423.1) scale(0.7308,1)" font-size="12.4">38<tspan dx="0.27">,</tspan><tspan dx="1.92">08</tspan></text>
<text transform="translate(514.8,405.8) scale(0.6320,1)" font-size="12.4">1А</text>
<text transform="translate(603.6,215.7) scale(0.6320,1)" font-size="12.4">1А</text>
<text transform="translate(145.5,196.4) scale(0.6954,1)" font-size="12.4">18<tspan dx="1.44">.</tspan><tspan dx="1.44">76</tspan></text>
<text transform="translate(228.7,165.1) scale(0.6800,1)" font-size="12.4">9<tspan dx="1.47">.</tspan><tspan dx="1.47">46</tspan></text>
<text transform="translate(267,165.2) scale(0.6825,1)" font-size="12.4">14<tspan dx="1.47">.</tspan><tspan dx="1.47">80</tspan></text>
<text transform="translate(380.2,65.6) scale(0.6498,1)" font-size="12.4">2<tspan dx="1.54">.</tspan><tspan dx="1.54">62</tspan><tspan dx="0.77">/</tspan><tspan dx="0.92">1</tspan><tspan dx="1.54">.</tspan><tspan dx="1.54">31</tspan></text>
<text transform="translate(370.3,177.1) scale(0.6761,1)" font-size="12.4">10<tspan dx="1.48">.</tspan><tspan dx="1.48">32</tspan></text>
<text transform="translate(257.1,208.9) scale(0.6054,1)" font-size="12.4">1<tspan dx="1.65">.</tspan><tspan dx="1.65">52</tspan></text>
<text transform="translate(263,258.4) scale(0.6302,1)" font-size="12.4">3<tspan dx="1.59">.</tspan><tspan dx="1.59">22</tspan></text>
<text transform="translate(315,258.3) scale(0.6427,1)" font-size="12.4">6<tspan dx="1.56">.</tspan><tspan dx="1.56">83</tspan></text>
<text transform="translate(373.3,239.2) scale(0.6510,1)" font-size="12.4">4<tspan dx="1.54">.</tspan><tspan dx="1.54">35</tspan></text>
<text transform="translate(195,243.8) scale(0.6219,1)" font-size="12.4">8<tspan dx="1.61">.</tspan><tspan dx="1.61">77</tspan></text>
<text transform="translate(45.6,282.1) scale(0.6653,1)" font-size="12.4">4<tspan dx="1.5">.</tspan><tspan dx="1.5">69</tspan><tspan dx="0.75">/</tspan><tspan dx="0.9">2</tspan><tspan dx="1.5">.</tspan><tspan dx="1.5">35</tspan></text>
<text transform="translate(105.7,278.7) scale(0.7102,1)" font-size="12.4">11<tspan dx="1.41">.</tspan><tspan dx="1.41">09</tspan></text>
<text transform="translate(45.6,342) scale(0.6730,1)" font-size="12.4">4<tspan dx="0.3">,</tspan><tspan dx="2.08">69</tspan><tspan dx="0.74">/</tspan><tspan dx="0.89">2</tspan><tspan dx="1.49">.</tspan><tspan dx="1.49">35</tspan></text>
<text transform="translate(149.5,370.1) scale(0.6969,1)" font-size="12.4">11<tspan dx="1.43">.</tspan><tspan dx="1.43">09</tspan></text>
<text transform="translate(234.4,398.8) scale(0.6966,1)" font-size="12.4">8<tspan dx="1.44">.</tspan><tspan dx="1.44">77</tspan></text>
<text transform="translate(257,377.4) scale(0.6344,1)" font-size="12.4">1<tspan dx="1.58">.</tspan><tspan dx="1.58">52</tspan></text>
<text transform="translate(263.1,328.4) scale(0.6302,1)" font-size="12.4">3<tspan dx="1.59">.</tspan><tspan dx="1.59">22</tspan></text>
<text transform="translate(345.5,374.8) scale(0.6468,1)" font-size="12.4">6<tspan dx="1.55">.</tspan><tspan dx="1.55">83</tspan></text>
<text transform="translate(374,373.9) scale(0.6219,1)" font-size="12.4">4<tspan dx="1.61">.</tspan><tspan dx="1.61">35</tspan></text>
<text transform="translate(449,373.9) scale(0.6302,1)" font-size="12.4">4<tspan dx="1.59">.</tspan><tspan dx="1.59">35</tspan></text>
<text transform="translate(504,343.5) scale(0.6468,1)" font-size="12.4">4<tspan dx="1.55">.</tspan><tspan dx="1.55">68</tspan></text>
<text transform="translate(149.4,491.2) scale(0.6922,1)" font-size="12.4">18<tspan dx="1.44">.</tspan><tspan dx="1.44">76</tspan></text>
<text transform="translate(232,490.2) scale(0.6634,1)" font-size="12.4">9<tspan dx="1.51">.</tspan><tspan dx="1.51">46</tspan></text>
<text transform="translate(313.8,523.5) scale(0.6954,1)" font-size="12.4">14<tspan dx="1.44">.</tspan><tspan dx="1.44">80</tspan></text>
<text transform="translate(391,488.9) scale(0.6439,1)" font-size="12.4">10<tspan dx="1.55">.</tspan><tspan dx="1.55">32</tspan></text>
<text transform="translate(467.5,488.2) scale(0.6922,1)" font-size="12.4">10<tspan dx="1.44">.</tspan><tspan dx="1.44">79</tspan></text>
<text transform="translate(557.9,447.9) scale(0.7050,1)" font-size="12.4">16<tspan dx="1.42">.</tspan><tspan dx="1.42">98</tspan></text>
<text transform="translate(380.9,531.3) scale(0.6556,1)" font-size="12.4">2<tspan dx="1.53">.</tspan><tspan dx="1.53">86</tspan><tspan dx="0.76">/</tspan><tspan dx="0.92">1</tspan><tspan dx="1.53">.</tspan><tspan dx="1.53">43</tspan></text>
<text transform="translate(432.5,531.3) scale(0.6595,1)" font-size="12.4">2<tspan dx="0.3">,</tspan><tspan dx="2.12">56</tspan><tspan dx="0.76">/</tspan><tspan dx="0.91">1</tspan><tspan dx="1.52">.</tspan><tspan dx="1.52">28</tspan></text>
<text transform="translate(73.4,622.8) scale(0.792,1)" font-family="'Liberation Serif', serif" font-style="italic" font-size="37.5" fill="#111" stroke="#111" stroke-width="0.55">1 (14)</text>
</g>
</svg>
</body></html>
